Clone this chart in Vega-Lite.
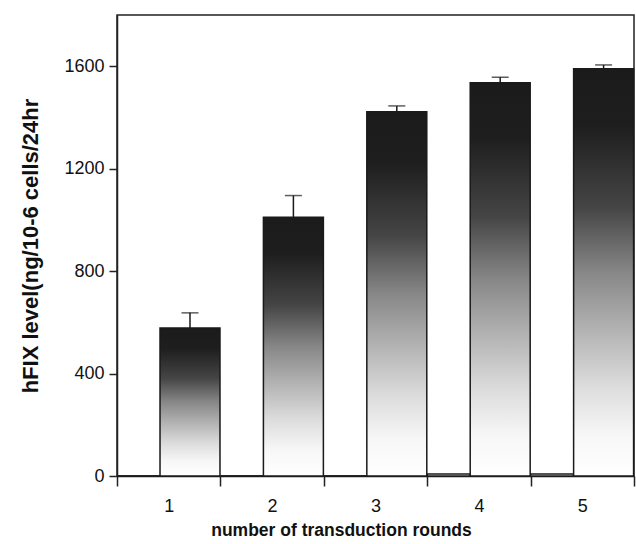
{
  "$schema": "https://vega.github.io/schema/vega-lite/v6.json",
  "width": 517,
  "height": 461,
  "autosize": {"type": "none"},
  "padding": {"left": 117, "top": 15, "right": 2, "bottom": 68},
  "background": "white",
  "config": {
    "font": "Liberation Sans",
    "view": {"stroke": "#222222", "strokeWidth": 1.5},
    "axis": {
      "domainColor": "#222222", "domainWidth": 1.5,
      "tickColor": "#222222", "tickWidth": 1.5,
      "labelColor": "#111111", "titleColor": "#111111",
      "labelFontSize": 18, "titleFontWeight": "bold",
      "grid": false
    },
    "axisX": {"tickSize": 10, "labelPadding": 11, "titlePadding": 6, "labelAngle": 0, "tickBand": "extent", "titleFontSize": 17.5},
    "axisY": {"tickSize": 8, "labelPadding": 5, "titlePadding": 21, "titleFontSize": 22}
  },
  "data": {
    "values": [
      {"round": "1", "hfix": 578, "upper": 637, "control": 0},
      {"round": "2", "hfix": 1010, "upper": 1095, "control": 0},
      {"round": "3", "hfix": 1422, "upper": 1445, "control": 0},
      {"round": "4", "hfix": 1535, "upper": 1557, "control": 8},
      {"round": "5", "hfix": 1590, "upper": 1605, "control": 8}
    ]
  },
  "encoding": {
    "x": {
      "field": "round", "type": "ordinal",
      "scale": {"paddingInner": 0, "paddingOuter": 0},
      "axis": {"title": "number of transduction rounds", "titleX": 224}
    }
  },
  "layer": [
    {
      "mark": {"type": "bar", "width": {"band": 0.416}, "xOffset": -30.2, "fill": "white", "stroke": "#1a1a1a", "strokeWidth": 1.5},
      "encoding": {
        "y": {
          "field": "control", "type": "quantitative", "title": "hFIX level(ng/10-6 cells/24hr",
          "scale": {"domain": [0, 1800], "nice": false},
          "axis": {"values": [0, 400, 800, 1200, 1600], "format": "d"}
        }
      }
    },
    {
      "mark": {
        "type": "bar", "width": {"band": 0.58}, "xOffset": 21.3, "stroke": "#1a1a1a", "strokeWidth": 1.5,
        "fill": {
          "gradient": "linear", "x1": 0, "y1": 0, "x2": 0, "y2": 1,
          "stops": [
            {"offset": 0, "color": "#1b1b1b"},
            {"offset": 0.14, "color": "#1e1e1e"},
            {"offset": 0.34, "color": "#454545"},
            {"offset": 0.5, "color": "#878787"},
            {"offset": 0.64, "color": "#b2b2b2"},
            {"offset": 0.78, "color": "#dcdcdc"},
            {"offset": 0.9, "color": "#f7f7f7"},
            {"offset": 1, "color": "#ffffff"}
          ]
        }
      },
      "encoding": {
        "y": {"field": "hfix", "type": "quantitative", "title": "hFIX level(ng/10-6 cells/24hr", "axis": {"values": [0, 400, 800, 1200, 1600], "format": "d"}}
      }
    },
    {
      "mark": {"type": "rule", "xOffset": 21.3, "color": "#1a1a1a", "strokeWidth": 1.5},
      "encoding": {
        "y": {"field": "hfix", "type": "quantitative", "title": "hFIX level(ng/10-6 cells/24hr", "axis": {"values": [0, 400, 800, 1200, 1600], "format": "d"}},
        "y2": {"field": "upper"}
      }
    },
    {
      "mark": {"type": "tick", "xOffset": 21.3, "color": "#1a1a1a", "size": 17, "thickness": 1.5},
      "encoding": {
        "y": {"field": "upper", "type": "quantitative", "title": "hFIX level(ng/10-6 cells/24hr", "axis": {"values": [0, 400, 800, 1200, 1600], "format": "d"}}
      }
    }
  ]
}
